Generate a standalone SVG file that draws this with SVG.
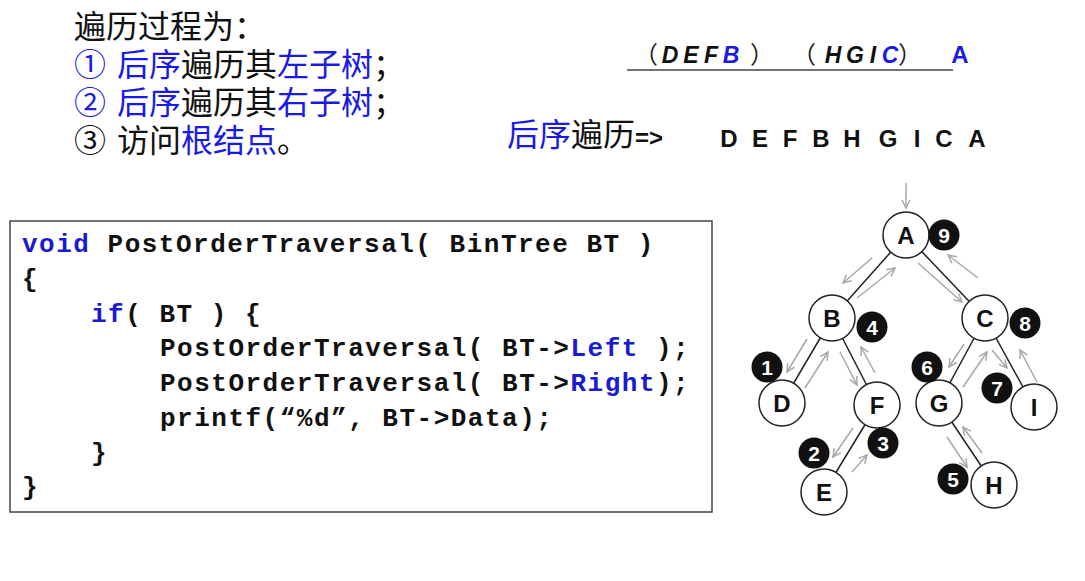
<svg xmlns="http://www.w3.org/2000/svg" width="1085" height="581" viewBox="0 0 1085 581">
<style>
.cjk{font-family:"Noto Sans CJK SC","Noto Sans",sans-serif;font-size:32px;fill:#111}
.code{font-family:"Liberation Mono","DejaVu Sans Mono",monospace;font-size:26px;font-weight:bold;letter-spacing:1.5px;fill:#111}
.frm{font-family:"Liberation Sans",Arial,sans-serif;font-size:23px;font-weight:bold;font-style:italic;fill:#111;text-anchor:middle}
.par{font-family:"Noto Sans CJK SC",sans-serif;font-size:24px;fill:#222}
.seq{font-family:"Liberation Sans",Arial,sans-serif;font-size:24px;font-weight:bold;fill:#111;text-anchor:middle}
.node circle{fill:#fff;stroke:#222;stroke-width:1.5}
.node text{font-family:"Liberation Sans",Arial,sans-serif;font-size:24px;font-weight:bold;fill:#111;text-anchor:middle}
.badge circle{fill:#111}
.badge text{font-family:"Liberation Sans",Arial,sans-serif;font-size:21px;font-weight:bold;fill:#fff;text-anchor:middle}
.edge{stroke:#222;stroke-width:1.5}
.arr{stroke:#a8a8a8;stroke-width:1.5;fill:none;marker-end:url(#ah)}
.blue{fill:#1a1ae6}
.kw{fill:#1a1ad0}
</style>
<defs>
<marker id="ah" markerUnits="userSpaceOnUse" markerWidth="12" markerHeight="12" refX="9" refY="5" orient="auto">
<path d="M1,1 L9,5 L1,9" fill="none" stroke="#a8a8a8" stroke-width="1.5"/>
</marker>
</defs>
<rect width="1085" height="581" fill="#fff"/>

<g id="steps">
<text class="cjk" x="74" y="38">遍历过程为：</text>
<text class="cjk" y="76"><tspan class="blue" x="74">①</tspan><tspan class="blue" x="117">后序</tspan>遍历其<tspan class="blue">左子树</tspan>；</text>
<text class="cjk" y="114"><tspan class="blue" x="74">②</tspan><tspan class="blue" x="117">后序</tspan>遍历其<tspan class="blue">右子树</tspan>；</text>
<text class="cjk" y="152"><tspan x="74">③</tspan><tspan x="117">访问</tspan><tspan class="blue">根结点</tspan>。</text>
</g>

<g id="formula">
<text class="par" x="634" y="63">（</text>
<text class="frm" x="670" y="63">D</text>
<text class="frm" x="691" y="63">E</text>
<text class="frm" x="711" y="63">F</text>
<text class="frm blue" x="731" y="63">B</text>
<text class="par" x="750" y="63">）</text>
<text class="par" x="792" y="63">（</text>
<text class="frm" x="833" y="63">H</text>
<text class="frm" x="855" y="63">G</text>
<text class="frm" x="873" y="63">I</text>
<text class="frm blue" x="890" y="63">C</text>
<text class="par" x="898" y="63">）</text>
<text class="seq blue" x="960" y="63" font-size="25">A</text>
<line x1="627" y1="70" x2="953" y2="70" stroke="#444" stroke-width="1.5"/>
</g>

<g id="result">
<text class="cjk" x="507" y="146"><tspan class="blue">后序</tspan>遍历<tspan font-family="Liberation Sans,Arial,sans-serif" font-weight="bold" font-size="24">=&gt;</tspan></text>
<text class="seq" x="729" y="147">D</text>
<text class="seq" x="760" y="147">E</text>
<text class="seq" x="790" y="147">F</text>
<text class="seq" x="821" y="147">B</text>
<text class="seq" x="852" y="147">H</text>
<text class="seq" x="888" y="147">G</text>
<text class="seq" x="917" y="147">I</text>
<text class="seq" x="944" y="147">C</text>
<text class="seq" x="977" y="147">A</text>
</g>

<g id="code">
<rect x="10" y="221" width="702" height="291" fill="#fff" stroke="#444" stroke-width="1.5"/>
<text class="code" x="22" y="252"><tspan class="kw">void</tspan> PostOrderTraversal( BinTree BT )</text>
<text class="code" x="22" y="287">{</text>
<text class="code" x="91" y="322"><tspan class="kw">if</tspan>( BT ) {</text>
<text class="code" x="160" y="356">PostOrderTraversal( BT-&gt;<tspan class="kw">Left</tspan> );</text>
<text class="code" x="160" y="391">PostOrderTraversal( BT-&gt;<tspan class="kw">Right</tspan>);</text>
<text class="code" x="160" y="426">printf(“%d”, BT-&gt;Data);</text>
<text class="code" x="91" y="461">}</text>
<text class="code" x="22" y="495">}</text>
</g>

<g id="connectors">
<line class="edge" x1="906" y1="235" x2="832" y2="318"/>
<line class="edge" x1="906" y1="235" x2="985" y2="318"/>
<line class="edge" x1="832" y1="318" x2="782" y2="403"/>
<line class="edge" x1="832" y1="318" x2="877" y2="405"/>
<line class="edge" x1="877" y1="405" x2="824" y2="492"/>
<line class="edge" x1="985" y1="318" x2="939" y2="403"/>
<line class="edge" x1="985" y1="318" x2="1034" y2="407"/>
<line class="edge" x1="939" y1="403" x2="994" y2="485"/>
<line class="arr" x1="906" y1="183" x2="906" y2="208"/>
<line class="arr" x1="872" y1="258" x2="843" y2="283"/>
<line class="arr" x1="857" y1="298" x2="895" y2="268"/>
<line class="arr" x1="918" y1="263" x2="962" y2="302"/>
<line class="arr" x1="978" y1="278" x2="948" y2="255"/>
<line class="arr" x1="807" y1="339" x2="787" y2="372"/>
<line class="arr" x1="805" y1="388" x2="828" y2="352"/>
<line class="arr" x1="840" y1="352" x2="857" y2="385"/>
<line class="arr" x1="875" y1="373" x2="861" y2="347"/>
<line class="arr" x1="853" y1="428" x2="833" y2="457"/>
<line class="arr" x1="852" y1="472" x2="867" y2="455"/>
<line class="arr" x1="964" y1="344" x2="949" y2="367"/>
<line class="arr" x1="963" y1="387" x2="987" y2="352"/>
<line class="arr" x1="992" y1="350" x2="1007" y2="368"/>
<line class="arr" x1="1037" y1="382" x2="1020" y2="350"/>
<line class="arr" x1="947" y1="437" x2="967" y2="467"/>
<line class="arr" x1="982" y1="453" x2="963" y2="427"/>
</g>

<g id="node-A" class="node"><circle cx="906" cy="235" r="23"/><text x="906" y="244">A</text></g>
<g id="node-B" class="node"><circle cx="832" cy="318" r="23"/><text x="832" y="327">B</text></g>
<g id="node-C" class="node"><circle cx="985" cy="318" r="23"/><text x="985" y="327">C</text></g>
<g id="node-D" class="node"><circle cx="782" cy="403" r="23"/><text x="782" y="412">D</text></g>
<g id="node-F" class="node"><circle cx="877" cy="405" r="23"/><text x="877" y="414">F</text></g>
<g id="node-E" class="node"><circle cx="824" cy="492" r="23"/><text x="824" y="501">E</text></g>
<g id="node-G" class="node"><circle cx="939" cy="403" r="23"/><text x="939" y="412">G</text></g>
<g id="node-I" class="node"><circle cx="1034" cy="407" r="23"/><text x="1034" y="416">I</text></g>
<g id="node-H" class="node"><circle cx="994" cy="485" r="23"/><text x="994" y="494">H</text></g>

<g id="badge-1" class="badge"><circle cx="767" cy="367" r="15.5"/><text x="767" y="375">1</text></g>
<g id="badge-2" class="badge"><circle cx="814" cy="453" r="15.5"/><text x="814" y="461">2</text></g>
<g id="badge-3" class="badge"><circle cx="883" cy="443" r="15.5"/><text x="883" y="451">3</text></g>
<g id="badge-4" class="badge"><circle cx="872" cy="327" r="15.5"/><text x="872" y="335">4</text></g>
<g id="badge-5" class="badge"><circle cx="953" cy="479" r="15.5"/><text x="953" y="487">5</text></g>
<g id="badge-6" class="badge"><circle cx="927" cy="367" r="15.5"/><text x="927" y="375">6</text></g>
<g id="badge-7" class="badge"><circle cx="997" cy="388" r="15.5"/><text x="997" y="396">7</text></g>
<g id="badge-8" class="badge"><circle cx="1025" cy="323" r="15.5"/><text x="1025" y="331">8</text></g>
<g id="badge-9" class="badge"><circle cx="944" cy="235" r="15.5"/><text x="944" y="243">9</text></g>
</svg>
